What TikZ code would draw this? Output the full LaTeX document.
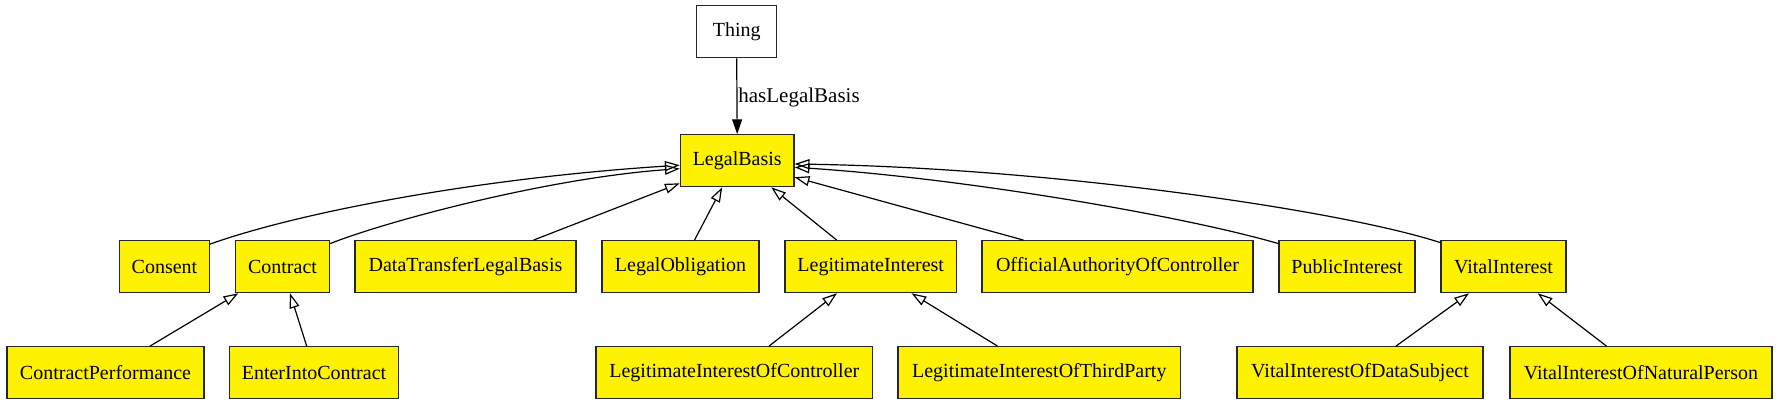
\documentclass[tikz,border=0pt]{standalone}
\usepackage{fontspec}
\setmainfont{Liberation Serif}
\usetikzlibrary{arrows.meta,calc}
\begin{document}
\begin{tikzpicture}[x=0.5pt,y=-0.5pt,
  cls/.style={draw=black!85, line width=0.6pt, fill=yellow, minimum height=26pt, inner sep=0pt, font=\fontsize{10}{12}\selectfont},
  isa/.style={line width=0.6pt, -{Triangle[open,length=7.4pt,width=5pt]}},
  rel/.style={line width=0.6pt, -{Triangle[length=7.4pt,width=5pt]}},
  lbl/.style={font=\fontsize{10.5}{12}\selectfont, inner sep=0pt}]
\useasboundingbox (0,0) rectangle (1779,405);
% nodes
\node[cls, fill=white, minimum width=40pt] (Thing) at (736.7,31.7) {Thing};
\node[cls, minimum width=56.85pt] (LB) at (737.2,160.7) {LegalBasis};
\node[cls, minimum width=45pt] (Consent) at (164.5,266.7) {Consent};
\node[cls, minimum width=47pt] (Contract) at (282.5,266.7) {Contract};
\node[cls, minimum width=110.5pt] (DTLB) at (465.5,266.7) {DataTransferLegalBasis};
\node[cls, minimum width=78.5pt] (LO) at (680.5,266.7) {LegalObligation};
\node[cls, minimum width=85.65pt] (LI) at (870.7,266.7) {LegitimateInterest};
\node[cls, minimum width=135.5pt] (OAOC) at (1117.5,266.7) {OfficialAuthorityOfController};
\node[cls, minimum width=68pt] (PI) at (1347,266.7) {PublicInterest};
\node[cls, minimum width=62.5pt] (VI) at (1503.5,266.7) {VitalInterest};
\node[cls, minimum width=98.5pt] (CP) at (105.5,372.7) {ContractPerformance};
\node[cls, minimum width=84.7pt] (EIC) at (314,372.7) {EnterIntoContract};
\node[cls, minimum width=138.3pt] (LIOC) at (734.3,372.7) {LegitimateInterestOfController};
\node[cls, minimum width=141.25pt] (LIOTP) at (1039.3,372.7) {LegitimateInterestOfThirdParty};
\node[cls, minimum width=123pt] (VIODS) at (1360,372.7) {VitalInterestOfDataSubject};
\node[cls, minimum width=131pt] (VIONP) at (1641,372.7) {VitalInterestOfNaturalPerson};
% edges
\draw[rel] (Thing.south) -- (LB.north);
\node[lbl, anchor=west] (hlb) at (738,97) {hasLegalBasis};
\draw[isa] ($(Consent.north east)+(0,4)$) .. controls (300,212) and (480,178) .. ($(LB.west)+(0,4.5)$);
\draw[isa] ($(Contract.north east)+(0,3.5)$) .. controls (390,220) and (550,178) .. ($(LB.west)+(0,8)$);
\draw[isa] ($(DTLB.north)+(68,0)$) -- ($(LB.west)+(0,22.6)$);
\draw[isa] ($(LO.north)+(14,0)$) -- ($(LB.south)+(-15,0)$);
\draw[isa] ($(LI.north)+(-34,0)$) -- ($(LB.south)+(34,0)$);
\draw[isa] ($(OAOC.north)+(-94,0)$) -- ($(LB.east)+(0,16.5)$);
\draw[isa] ($(PI.north west)+(0,3.5)$) .. controls (1180,215) and (960,178) .. ($(LB.east)+(0,6.6)$);
\draw[isa] ($(VI.north west)+(0,2.5)$) .. controls (1340,210) and (1050,168) .. ($(LB.east)+(0,3.3)$);
\draw[isa] ($(CP.north)+(44.5,0)$) -- ($(Contract.south)+(-44.2,0)$);
\draw[isa] ($(EIC.north)+(-7.3,0)$) -- ($(Contract.south)+(7.5,0)$);
\draw[isa] ($(LIOC.north)+(34.7,0)$) -- ($(LI.south)+(-33.7,0)$);
\draw[isa] ($(LIOTP.north)+(-41.8,0)$) -- ($(LI.south)+(40.8,0)$);
\draw[isa] ($(VIODS.north)+(36,0)$) -- ($(VI.south)+(-34.5,0)$);
\draw[isa] ($(VIONP.north)+(-34.5,0)$) -- ($(VI.south)+(34.2,0)$);
\end{tikzpicture}
\end{document}
